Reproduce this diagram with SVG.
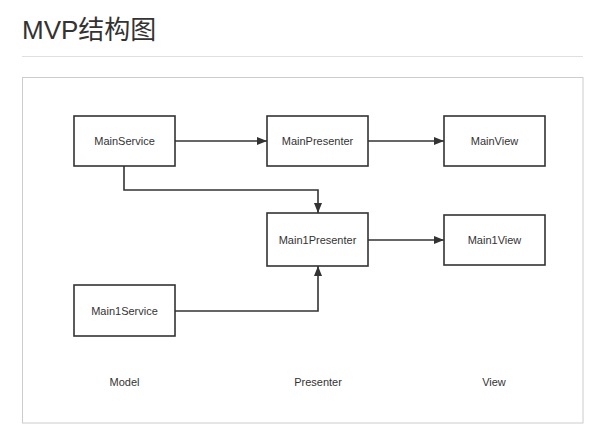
<svg xmlns="http://www.w3.org/2000/svg" width="610" height="443" viewBox="0 0 610 443">
<style>
.title{font-family:"Liberation Sans","Noto Sans CJK SC",sans-serif;font-size:26px;fill:#333}
.box{fill:#fff;stroke:#333;stroke-width:1.6}
.lbl{font-family:"Liberation Sans","Noto Sans CJK SC",sans-serif;font-size:11px;fill:#333;text-anchor:middle}
.edge{fill:none;stroke:#333;stroke-width:1.6}
</style>
<defs>
<marker id="arr" viewBox="0 0 10 8" refX="10" refY="4" markerWidth="10" markerHeight="8" markerUnits="userSpaceOnUse" orient="auto">
<path d="M0,0 L10,4 L0,8 Z" fill="#333"/>
</marker>
</defs>
<rect width="610" height="443" fill="#fff"/>
<text class="title" x="22" y="39">MVP结构图</text>
<line x1="22" y1="56.5" x2="583" y2="56.5" stroke="#e0e0e0" stroke-width="1"/>
<rect x="22.5" y="77.5" width="560.5" height="345.5" fill="#fff" stroke="#ccc" stroke-width="1"/>
<g id="connectors">
<path class="edge" d="M175,141 L267,141" marker-end="url(#arr)"/>
<path class="edge" d="M368,141 L444,141" marker-end="url(#arr)"/>
<path class="edge" d="M124,166 L124,190 L318,190 L318,213" marker-end="url(#arr)"/>
<path class="edge" d="M368,240 L444,240" marker-end="url(#arr)"/>
<path class="edge" d="M175,311 L318,311 L318,266" marker-end="url(#arr)"/>
</g>
<g id="MainService"><rect class="box" x="74" y="116" width="101" height="50"/><text class="lbl" x="124.5" y="145">MainService</text></g>
<g id="MainPresenter"><rect class="box" x="267" y="116" width="101" height="50"/><text class="lbl" x="317.5" y="145">MainPresenter</text></g>
<g id="MainView"><rect class="box" x="444" y="116" width="101" height="50"/><text class="lbl" x="494.5" y="145">MainView</text></g>
<g id="Main1Presenter"><rect class="box" x="267" y="213" width="101" height="53"/><text class="lbl" x="317.5" y="244">Main1Presenter</text></g>
<g id="Main1View"><rect class="box" x="444" y="215" width="101" height="50"/><text class="lbl" x="494.5" y="244">Main1View</text></g>
<g id="Main1Service"><rect class="box" x="74" y="285" width="101" height="51"/><text class="lbl" x="124.5" y="315">Main1Service</text></g>
<g id="layers">
<text class="lbl" x="124.5" y="386">Model</text>
<text class="lbl" x="318" y="386">Presenter</text>
<text class="lbl" x="494" y="386">View</text>
</g>
</svg>
